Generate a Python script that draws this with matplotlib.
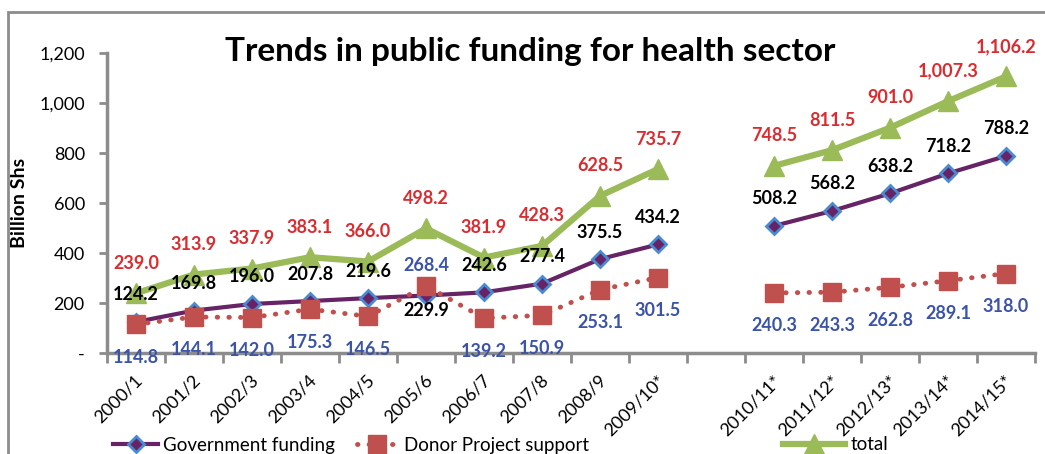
import numpy as np
import matplotlib
matplotlib.use('Agg')
import matplotlib.pyplot as plt
import matplotlib.transforms as mtransforms
from matplotlib.lines import Line2D
from matplotlib.patches import Rectangle
from matplotlib.ticker import FixedLocator, FuncFormatter

plt.rcParams['font.family'] = ['Lato', 'DejaVu Sans']

# data (blank slot between 2009/10* and 2010/11* breaks the lines)
years = ['2000/1', '2001/2', '2002/3', '2003/4', '2004/5', '2005/6', '2006/7',
         '2007/8', '2008/9', '2009/10*', '', '2010/11*', '2011/12*',
         '2012/13*', '2013/14*', '2014/15*']
government = [124.2, 169.8, 196.0, 207.8, 219.6, 229.9, 242.6, 277.4, 375.5,
              434.2, np.nan, 508.2, 568.2, 638.2, 718.2, 788.2]
donor = [114.8, 144.1, 142.0, 175.3, 146.5, 268.4, 139.2, 150.9, 253.1,
         301.5, np.nan, 240.3, 243.3, 262.8, 289.1, 318.0]
total = [239.0, 313.9, 337.9, 383.1, 366.0, 498.2, 381.9, 428.3, 628.5,
         735.7, np.nan, 748.5, 811.5, 901.0, 1007.3, 1106.2]

GOV_C = '#662466'
GOV_EDGE = '#4a8ad0'
DON_C = '#c0504d'
TOT_C = '#9bbb59'
AXIS_C = '#8c8c8c'
RED_T = '#dc2b2f'
BLUE_T = '#3b53a8'

fig = plt.figure(figsize=(10.45, 4.54), dpi=100)
ax = fig.add_axes([107 / 1045, 1 - 353 / 454, 928 / 1045, 300 / 454])

# outer chart frame
fig.patches.append(Rectangle((8 / 1045, -0.2), 1.2, 1 - 12 / 454 + 0.2,
                             transform=fig.transFigure, fill=False,
                             edgecolor=AXIS_C, lw=2, zorder=0))

x = np.arange(len(years))

ax.plot(x, government, color=GOV_C, lw=3, marker='D', ms=8,
        mfc=GOV_C, mec=GOV_EDGE, mew=2, zorder=3)
ax.plot(x, donor, color=DON_C, lw=3.5, linestyle=(0, (0.1, 2.3)),
        dash_capstyle='round', marker='s', ms=13, mfc=DON_C, mec=DON_C,
        zorder=4)
ax.plot(x, total, color=TOT_C, lw=4.5, marker='^', ms=14, mfc=TOT_C,
        mec=TOT_C, zorder=5)

lab_kw = dict(textcoords='offset pixels', ha='center', va='center',
              fontsize=13, fontweight='bold', zorder=10)
for i in range(len(years)):
    if np.isnan(total[i]):
        continue
    ax.annotate(f'{total[i]:,.1f}', (x[i], total[i]), xytext=(0, 30),
                color=RED_T, **lab_kw)
    # 2005/6: donor above government, labels swap sides
    gov_dy, don_dy = (-15, 20) if i == 5 else (27, -33)
    ax.annotate(f'{government[i]:,.1f}', (x[i], government[i]),
                xytext=(0, gov_dy), color='black', **lab_kw)
    ax.annotate(f'{donor[i]:,.1f}', (x[i], donor[i]), xytext=(0, don_dy),
                color=BLUE_T, **lab_kw)

ax.set_xlim(-0.5, len(years) - 0.5)
ax.set_ylim(0, 1200)
ax.set_yticks(np.arange(0, 1201, 200))
ax.yaxis.set_major_formatter(FuncFormatter(
    lambda v, p: '-' if v == 0 else f'{v:,.0f}'))
ax.tick_params(axis='y', labelsize=13, length=6, width=2, color=AXIS_C,
               pad=10)

ax.xaxis.set_major_locator(FixedLocator(np.arange(-0.5, len(years), 1)))
ax.xaxis.set_minor_locator(FixedLocator(x))
ax.set_xticklabels([])
ax.set_xticklabels(years, minor=True, rotation=45, ha='right', va='center',
                   rotation_mode='anchor', fontsize=13)
ax.tick_params(axis='x', which='major', length=7, width=2, color=AXIS_C)
ax.tick_params(axis='x', which='minor', length=0, pad=18)
shift = mtransforms.ScaledTranslation(4 / 100, 0, fig.dpi_scale_trans)
for lab in ax.xaxis.get_minorticklabels():
    lab.set_transform(lab.get_transform() + shift)

for s in ['top', 'right']:
    ax.spines[s].set_visible(False)
for s in ['left', 'bottom']:
    ax.spines[s].set_color(AXIS_C)
    ax.spines[s].set_linewidth(2.5)

ax.set_ylabel('Billion Shs', fontsize=14, fontweight='bold')
ax.yaxis.set_label_coords((28 - 107) / 928, 0.5)

fig.text(530 / 1045, 1 - 52 / 454,
         'Trends in public funding for health sector',
         ha='center', va='center', fontsize=24, fontweight='bold')

h_gov = Line2D([], [], color=GOV_C, lw=3, marker='D', ms=8, mfc=GOV_C,
               mec=GOV_EDGE, mew=2)
h_don = Line2D([], [], color=DON_C, lw=3.5, linestyle=(0, (0.1, 2.3)),
               dash_capstyle='round', marker='s', ms=13, mfc=DON_C,
               mec=DON_C)
h_tot = Line2D([], [], color=TOT_C, lw=4.5, marker='^', ms=14, mfc=TOT_C,
               mec=TOT_C)

leg_font = {'family': 'Lato', 'size': 13.5}
leg_y = 1 - 445 / 454
fig.legend([h_gov], ['Government funding'], loc='center left',
           bbox_to_anchor=(113 / 1045, leg_y), frameon=False,
           prop=leg_font, handlelength=2.4, handletextpad=0.25,
           borderpad=0, borderaxespad=0)
fig.legend([h_don], ['Donor Project support'], loc='center left',
           bbox_to_anchor=(357 / 1045, leg_y), frameon=False,
           prop=leg_font, handlelength=2.1, handletextpad=0.4,
           borderpad=0, borderaxespad=0)
fig.legend([h_tot], ['total'], loc='center left',
           bbox_to_anchor=(783 / 1045, leg_y), frameon=False,
           prop=leg_font, handlelength=3.3, handletextpad=0.3,
           borderpad=0, borderaxespad=0)

fig.savefig('out.png', dpi=100)
